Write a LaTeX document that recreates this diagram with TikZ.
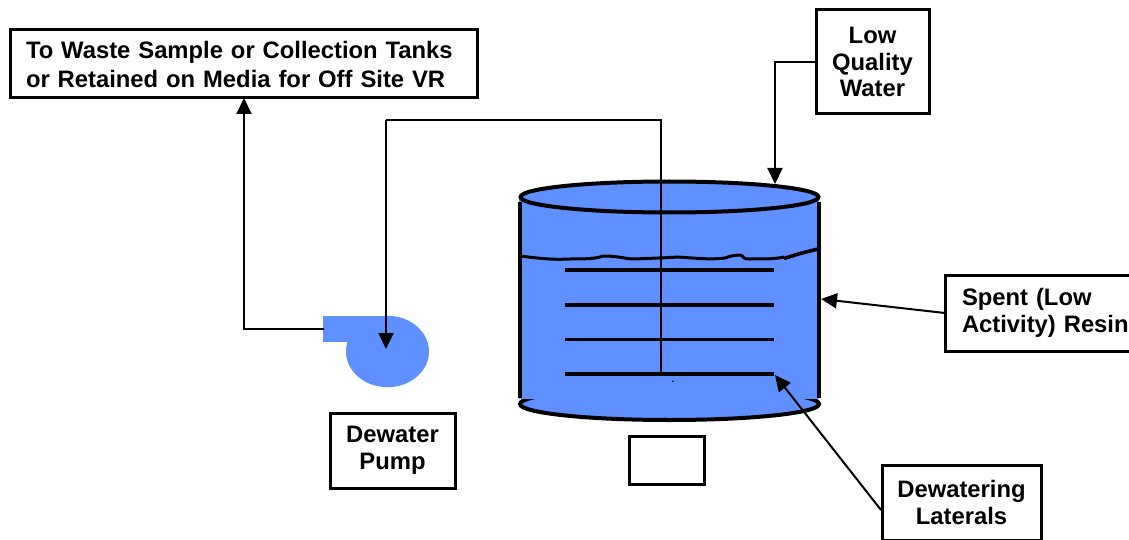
\documentclass[tikz,border=0pt]{standalone}
\usepackage{fontspec}
\setmainfont{Liberation Sans}
\usetikzlibrary{arrows.meta}
\definecolor{resin}{HTML}{6090FF}
\tikzset{
  labelbox/.style={draw=black,line width=3pt,fill=white,inner sep=0pt,outer sep=0pt,font=\fontsize{23.8}{26.5}\selectfont\bfseries,align=center},
  flow/.style={line width=2pt,-{Triangle[length=16pt,width=15pt]}},
  pipe/.style={line width=2pt},
  vessel/.style={line width=4pt},
  lateral/.style={line width=3.2pt}
}
\begin{document}
\begin{tikzpicture}[x=1pt,y=-1pt]
\useasboundingbox (0,0) rectangle (1129,540);
% boxes
\node[labelbox,minimum width=467pt,minimum height=68pt,align=left,text width=435pt] (waste) at (243.5,64) {To Waste Sample or Collection Tanks\\[2.5pt]or Retained on Media for Off Site VR};
\node[labelbox,minimum width=113pt,minimum height=104pt] (lqw) at (872.5,62) {Low\\Quality\\Water};
\node[labelbox,minimum width=186pt,minimum height=76pt,align=left,text width=152pt] (spent) at (1038,313) {Spent (Low\\\makebox[0pt][l]{Activity) Resin}};
\node[labelbox,minimum width=125pt,minimum height=75pt] (dpump) at (392.5,450.5) {Dewater\\Pump};
\node[labelbox,minimum width=159pt,minimum height=75pt] (dlat) at (961.5,502.5) {Dewatering\\Laterals};
\node[labelbox,minimum width=75pt,minimum height=48pt] (stand) at (666.5,460) {};
% vessel
\draw[vessel,fill=resin] (669.5,404) ellipse[x radius=149.5,y radius=16];
\fill[resin] (519,197) rectangle (819,399);
\draw[vessel] (519.5,202) -- (519.5,398);
\draw[vessel] (818.5,202) -- (818.5,398);
\draw[vessel,fill=resin] (669.5,197) ellipse[x radius=149,y radius=15.5];
% resin surface
\draw[line width=3pt,line join=round] (520,256) .. controls (540,258.5) and (555,260) .. (567,259) .. controls (585,259) and (595,259) .. (603,256) .. controls (620,256) and (625,259) .. (635,259) .. controls (655,258) and (665,258) .. (677,257) .. controls (695,258) and (710,260) .. (725,258) .. controls (730,256) and (735,255) .. (741,255) .. controls (743,258) and (745,259) .. (750,259) .. controls (765,259) and (775,259) .. (784,257);
\draw[line width=3.6pt] (784,258.5) -- (800,253.5) -- (818,249);
% laterals
\coordinate (lat1w) at (565,270); \coordinate (lat1e) at (774,270);
\coordinate (lat2w) at (565,305); \coordinate (lat2e) at (774,305);
\coordinate (lat3w) at (565,339.5); \coordinate (lat3e) at (774,339.5);
\coordinate (lat4w) at (565,374); \coordinate (lat4e) at (774,374);
\draw[lateral] (lat1w) -- (lat1e);
\draw[lateral] (lat2w) -- (lat2e);
\draw[lateral] (lat3w) -- (lat3e);
\draw[lateral] (lat4w) -- (lat4e);
\fill (673,381.3) circle (0.9pt);
% pump
\fill[resin] (387.5,351.5) ellipse[x radius=41.5,y radius=35.7];
\fill[resin] (323,316) rectangle (388,342);
% connectors
\coordinate (pumpin) at (386,349);
\coordinate (pumpout) at (324,329);
\coordinate (header) at (661,374);
\coordinate (wastein) at (244,98);
\coordinate (rim) at (775,184);
\coordinate (wall) at (821,299);
\coordinate (latend) at (775,375);
\coordinate (dlatin) at (881,510);
\draw[pipe,line join=miter] (header) -- (661,120) -- (386,120);
\draw[flow] (386,120) -- (pumpin);
\draw[flow] (pumpout) -- (244,329) -- (wastein);
\draw[flow] (lqw.west) -- (775,62) -- (rim);
\draw[flow] (spent.west) -- (wall);
\draw[flow] (dlatin) -- (latend);
\end{tikzpicture}
\end{document}
